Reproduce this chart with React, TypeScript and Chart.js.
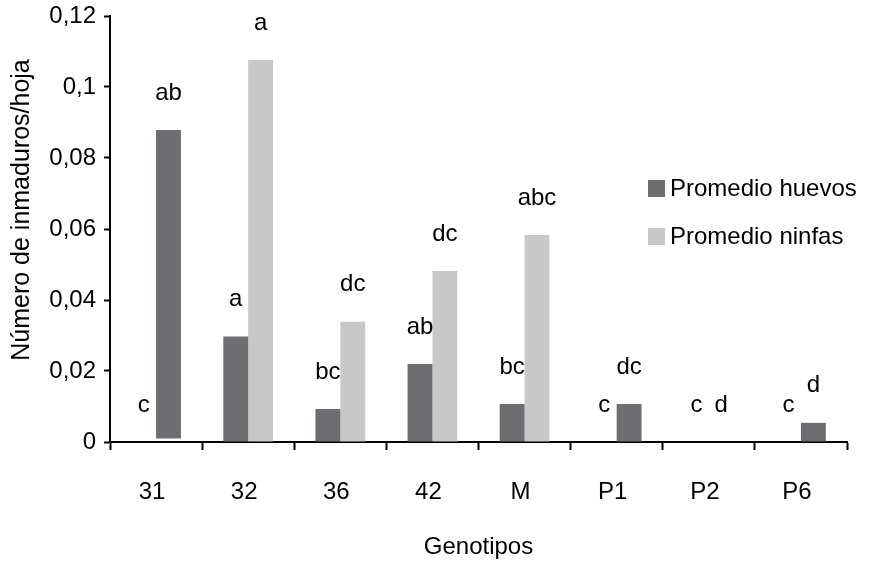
import React, { useEffect, useRef } from "react";
import { Chart, registerables } from "chart.js";

Chart.register(...registerables);

const categories = ["31", "32", "36", "42", "M", "P1", "P2", "P6"];
const huevos: number[] = [0, 0.0297, 0.0093, 0.022, 0.0107, 0, 0, 0];
const ninfas: (number | [number, number])[] = [[0.001, 0.0879], 0.1076, 0.0339, 0.0482, 0.0583, 0.0107, 0, 0.0054];
const huevosLetters = ["c", "a", "bc", "ab", "bc", "c", "c", "c"];
const ninfasLetters = ["ab", "a", "dc", "dc", "abc", "dc", "d", "d"];
const ninfasDrawnDark = [true, false, false, false, false, true, false, true];
const yTicks = [0, 0.02, 0.04, 0.06, 0.08, 0.1, 0.12];
const yTickLabels = ["0", "0,02", "0,04", "0,06", "0,08", "0,1", "0,12"];
const yTitle = "Número de inmaduros/hoja";

const DARK = "#6d6e71";
const LIGHT = "#c7c8ca";
const FONT = "'Liberation Sans', Arial, sans-serif";
const FS = 24;

const topOf = (v: number | [number, number]) => (Array.isArray(v) ? v[1] : v);

const lettersPlugin = {
  id: "letters",
  afterDatasetsDraw(chart: any) {
    const ctx = chart.ctx;
    const y = chart.scales.y;
    ctx.save();
    ctx.fillStyle = "#000";
    ctx.font = `${FS}px ${FONT}`;
    ctx.textAlign = "center";
    ctx.textBaseline = "middle";
    const sets = [
      { values: huevos as (number | [number, number])[], letters: huevosLetters },
      { values: ninfas, letters: ninfasLetters },
    ];
    sets.forEach((s, di) => {
      const meta = chart.getDatasetMeta(di);
      meta.data.forEach((bar: any, i: number) => {
        const py = y.getPixelForValue(topOf(s.values[i])) - 37;
        ctx.fillText(s.letters[i], bar.x, py);
      });
    });
    ctx.restore();
  },
};

const legendPlugin = {
  id: "customLegend",
  afterDraw(chart: any) {
    const ctx = chart.ctx;
    ctx.save();
    ctx.font = `${FS}px ${FONT}`;
    ctx.textBaseline = "middle";
    ctx.textAlign = "left";
    const items = [
      { label: "Promedio huevos", color: DARK, y: 188 },
      { label: "Promedio ninfas", color: LIGHT, y: 236 },
    ];
    items.forEach((it) => {
      ctx.fillStyle = it.color;
      ctx.fillRect(648, it.y - 8, 17, 17);
      ctx.fillStyle = "#000";
      ctx.fillText(it.label, 670, it.y + 1);
    });
    // y-axis title
    ctx.translate(22, 210);
    ctx.rotate(-Math.PI / 2);
    ctx.font = `25px ${FONT}`;
    ctx.textAlign = "center";
    ctx.fillText(yTitle, 0, 0);
    ctx.restore();
  },
};

export default function App() {
  const ref = useRef<HTMLCanvasElement | null>(null);
  useEffect(() => {
    if (!ref.current) return;
    const chart = new Chart(ref.current, {
      type: "bar",
      data: {
        labels: categories,
        datasets: [
          {
            label: "Promedio huevos",
            data: huevos,
            backgroundColor: DARK,
            categoryPercentage: 0.54,
            barPercentage: 1.0,
          },
          {
            label: "Promedio ninfas",
            data: ninfas as any,
            backgroundColor: ninfasDrawnDark.map((d) => (d ? DARK : LIGHT)),
            categoryPercentage: 0.54,
            barPercentage: 1.0,
          },
        ],
      },
      options: {
        responsive: false,
        animation: false,
        layout: { padding: { top: 16, right: 34, left: 0, bottom: 0 } },
        plugins: { legend: { display: false }, tooltip: { enabled: false } },
        scales: {
          x: {
            grid: {
              offset: true,
              drawOnChartArea: false,
              drawTicks: true,
              tickLength: 8,
              tickColor: "#000",
              tickWidth: 2,
            },
            border: { display: true, color: "#000", width: 2 },
            ticks: {
              color: "#000",
              font: { family: FONT, size: FS },
              padding: 28,
              labelOffset: -4,
              maxRotation: 0,
            },
            title: {
              display: true,
              text: "Genotipos",
              color: "#000",
              font: { family: FONT, size: FS },
              padding: { top: 4, bottom: 4 },
            },
            afterFit: (s: any) => {
              s.height = 124;
              s.paddingLeft = 0;
              s.paddingRight = 0;
            },
          },
          y: {
            min: 0,
            max: 0.12,
            afterBuildTicks: (s: any) => {
              s.ticks = yTicks.map((v) => ({ value: v }));
            },
            grid: {
              drawOnChartArea: false,
              drawTicks: true,
              tickLength: 6,
              tickColor: "#000",
              tickWidth: 2,
            },
            border: { display: true, color: "#000", width: 2 },
            ticks: {
              color: "#000",
              font: { family: FONT, size: FS },
              padding: 8,
              callback: (_v: any, i: number) => yTickLabels[i],
            },
            title: { display: false },
            afterFit: (s: any) => {
              s.width = 110;
              s.paddingTop = 0;
              s.paddingBottom = 0;
            },
          },
        },
      },
      plugins: [lettersPlugin, legendPlugin],
    });
    return () => chart.destroy();
  }, []);
  return (
    <div style={{ position: "absolute", left: 0, top: 0, width: 881, height: 566, background: "#fff" }}>
      <canvas ref={ref} width={881} height={566} style={{ display: "block" }} />
    </div>
  );
}
